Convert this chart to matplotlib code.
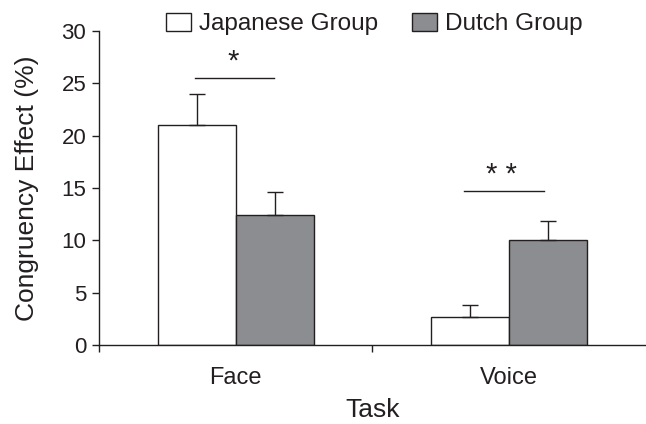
import numpy as np
import matplotlib.pyplot as plt
from matplotlib.patches import Patch

plt.rcParams['font.family'] = ['Liberation Sans', 'DejaVu Sans']

# congruency effect (%) per task and group
tasks    = ['Face', 'Voice']
groups   = ['Japanese Group', 'Dutch Group']
japanese = [21.0, 2.7]
dutch    = [12.4, 10.0]
japanese_err = [3.0, 1.1]
dutch_err    = [2.2, 1.9]

ink  = '#231f20'
gray = '#8c8d90'

fig = plt.figure(figsize=(6.46, 4.24), dpi=100)
ax = fig.add_axes([0.153, 0.186, 0.847, 0.741])

x = np.arange(len(tasks))
w = 0.285
ekw = dict(ecolor=ink, elinewidth=1.0, capthick=1.0)
ax.bar(x - w/2, japanese, w, color='white', edgecolor=ink, linewidth=1.0,
       yerr=[np.zeros(2), japanese_err], capsize=5.5, error_kw=ekw, zorder=2)
ax.bar(x + w/2, dutch, w, color=gray, edgecolor=ink, linewidth=1.0,
       yerr=[np.zeros(2), dutch_err], capsize=5.5, error_kw=ekw, zorder=2)

# significance markers
ax.plot([-0.15, 0.142], [25.5, 25.5], color=ink, lw=1.0)
ax.text(-0.01, 25.7, '*', ha='center', va='bottom', fontsize=21, color=ink)
ax.plot([0.835, 1.127], [14.75, 14.75], color=ink, lw=1.0)
ax.text(0.97, 14.95, '* *', ha='center', va='bottom', fontsize=21, color=ink)

ax.set_xlim(-0.5, 1.5)
ax.set_ylim(0, 30)
ax.set_yticks(np.arange(0, 31, 5))
ax.set_xticks([-0.5, 0.5])
ax.set_xticklabels([])
ax.set_xticks(x, minor=True)
ax.set_xticklabels(tasks, minor=True)
ax.tick_params(axis='x', which='minor', length=0, pad=16, labelsize=17, labelcolor=ink)
ax.tick_params(axis='x', which='major', length=5, width=1.0, color=ink)
ax.tick_params(axis='y', length=5, width=1.0, color=ink, labelsize=16, labelcolor=ink, pad=4)

for s in ['top', 'right']:
    ax.spines[s].set_visible(False)
for s in ['left', 'bottom']:
    ax.spines[s].set_color(ink)
    ax.spines[s].set_linewidth(1.0)

ax.set_xlabel('Task', fontsize=19, color=ink, labelpad=6)
ax.set_ylabel('Congruency Effect (%)', fontsize=19, color=ink, labelpad=16)

handles = [Patch(facecolor='white', edgecolor=ink, linewidth=1.0),
           Patch(facecolor=gray, edgecolor=ink, linewidth=1.0)]
leg = fig.legend(handles, groups, loc='center', bbox_to_anchor=(0.58, 0.943), ncol=2,
                 frameon=False, fontsize=17.5, handlelength=1.0, handleheight=0.75,
                 handletextpad=0.35, columnspacing=1.4)
for t in leg.get_texts():
    t.set_color(ink)

fig.savefig('out.png', dpi=100)
